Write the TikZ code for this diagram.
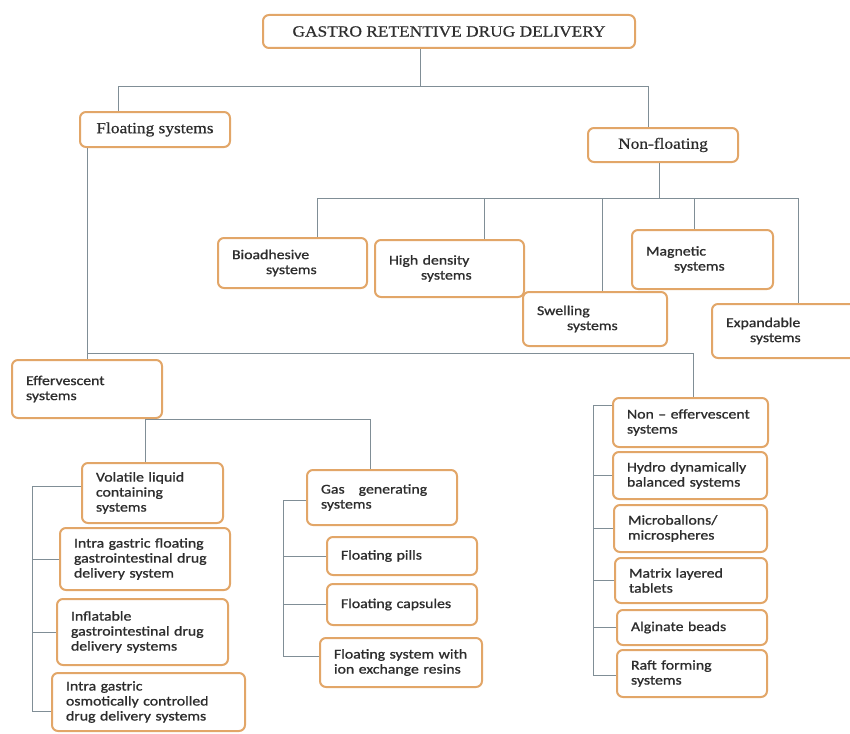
\documentclass[tikz,border=0pt]{standalone}
\usepackage{fontspec}
\newfontfamily\headfont{Liberation Serif}[FakeStretch=1.12,FakeBold=0.6]
\newfontfamily\boxfont{Carlito}[FakeStretch=1.17,FakeBold=1]
\definecolor{boxedge}{RGB}{226,166,104}
\definecolor{linkgray}{RGB}{128,142,150}
\definecolor{inkgray}{RGB}{45,45,45}
\begin{document}
\begin{tikzpicture}[x=1pt,y=-1pt,
        hbox/.style={draw=boxedge,line width=2pt,rounded corners=6pt,fill=white,
            font=\headfont\fontsize{15.5}{18}\selectfont,text=inkgray,inner sep=0pt},
        sbox/.style={draw=boxedge,line width=2pt,rounded corners=6pt,fill=white,
            font=\boxfont\fontsize{13.5}{15}\selectfont,text=inkgray,
            inner xsep=14pt,inner ysep=0pt,align=left,text width=#1},
        link/.style={draw=linkgray,line width=1pt}]
    \useasboundingbox (0,0) rectangle (850,733);
    % first level
    \node[hbox,minimum width=372pt,minimum height=33pt] (top) at (449,31.5) {GASTRO RETENTIVE DRUG DELIVERY};
    \node[hbox,minimum width=150pt,minimum height=35pt] (fl) at (155,129.5) {Floating systems};
    \node[hbox,minimum width=150pt,minimum height=34pt] (nf) at (663,145) {Non-floating};
    % non-floating systems
    \node[sbox=121pt,minimum height=50pt] (bio) at (292.5,263) {Bioadhesive\\\hspace*{34pt}systems};
    \node[sbox=121pt,minimum height=57pt] (hd) at (449.5,268.5) {High density\\\hspace*{32pt}systems};
    \node[sbox=116pt,minimum height=54pt] (sw) at (595,319) {Swelling\\\hspace*{30pt}systems};
    \node[sbox=113pt,minimum height=59pt] (mag) at (702.5,259.5) {Magnetic\\\hspace*{28pt}systems};
    \node[sbox=118pt,minimum height=54pt] (exp) at (785,331) {Expandable\\\hspace*{24pt}systems};
    % floating systems
    \node[sbox=122pt,minimum height=58pt] (eff) at (87,389) {Effervescent\\systems};
    \node[sbox=113pt,minimum height=60pt] (vol) at (152.5,493) {Volatile liquid\\containing\\systems};
    \node[sbox=142pt,minimum height=62pt] (igf) at (145,559) {Intra gastric floating\\gastrointestinal drug\\delivery system};
    \node[sbox=143pt,minimum height=66pt] (inf) at (142.5,632) {Inflatable\\gastrointestinal drug\\delivery systems};
    \node[sbox=165pt,minimum height=58pt] (igo) at (148.5,702) {Intra gastric\\osmotically controlled\\drug delivery systems};
    \node[sbox=122pt,minimum height=55pt] (gas) at (382,497.5) {Gas\hspace{14pt}generating\\systems};
    \node[sbox=122pt,minimum height=38pt] (pills) at (402,556) {Floating pills};
    \node[sbox=122pt,minimum height=41pt] (caps) at (402,604.5) {Floating capsules};
    \node[sbox=134pt,minimum height=49pt] (ion) at (401,662.5) {Floating system with\\ion exchange resins};
    \node[sbox=127pt,minimum height=49pt] (nonef) at (690.5,422.5) {Non – effervescent\\systems};
    \node[sbox=126pt,minimum height=47pt] (hydro) at (690,475.5) {Hydro dynamically\\balanced systems};
    \node[sbox=125pt,minimum height=47pt] (micro) at (690.5,528.5) {Microballons/\\microspheres};
    \node[sbox=124pt,minimum height=45pt] (matrix) at (691,580.5) {Matrix layered\\tablets};
    \node[sbox=122pt,minimum height=35pt] (alg) at (692,627.5) {Alginate beads};
    \node[sbox=122pt,minimum height=47pt] (raft) at (692,673.5) {Raft forming\\systems};
    % junctions
    \coordinate (tb) at (420,87);
    \coordinate (b1) at (118,87);
    \coordinate (b2) at (648,87);
    \coordinate (n0) at (659,198);
    \coordinate (nL) at (317,198);
    \coordinate (n1) at (484,198);
    \coordinate (n2) at (602,198);
    \coordinate (n3) at (694,198);
    \coordinate (nR) at (798,198);
    \coordinate (f0) at (87,353);
    \coordinate (f1) at (693,353);
    \coordinate (e1) at (145,419);
    \coordinate (e2) at (370,419);
    \coordinate (v0) at (32,486);
    \coordinate (v3) at (32,711);
    \coordinate (g0) at (283,500);
    \coordinate (g3) at (283,656);
    \coordinate (r0) at (593,405);
    \coordinate (r5) at (593,675);
    % connectors
    \draw[link] (top.south -| tb) -- (tb);
    \draw[link] (fl.north -| b1) -- (b1) -- (b2) -- (nf.north -| b2);
    \draw[link] (nf.south -| n0) -- (n0);
    \draw[link] (bio.north -| nL) -- (nL) -- (nR) -- (exp.north -| nR);
    \draw[link] (n1) -- (hd.north -| n1);
    \draw[link] (n2) -- (sw.north -| n2);
    \draw[link] (n3) -- (mag.north -| n3);
    \draw[link] (fl.south -| f0) -- (eff.north -| f0);
    \draw[link] (f0) -- (f1) -- (nonef.north -| f1);
    \draw[link] (vol.north -| e1) -- (e1) -- (e2) -- (gas.north -| e2);
    \draw[link] (vol.west |- v0) -- (v0) -- (v3) -- (igo.west |- v3);
    \draw[link] (igf.west) -- (igf.west -| v0);
    \draw[link] (inf.west) -- (inf.west -| v0);
    \draw[link] (gas.west |- g0) -- (g0) -- (g3) -- (ion.west |- g3);
    \draw[link] (pills.west) -- (pills.west -| g0);
    \draw[link] (caps.west) -- (caps.west -| g0);
    \draw[link] (nonef.west |- r0) -- (r0) -- (r5) -- (raft.west |- r5);
    \draw[link] (hydro.west) -- (hydro.west -| r0);
    \draw[link] (micro.west) -- (micro.west -| r0);
    \draw[link] (matrix.west) -- (matrix.west -| r0);
    \draw[link] (alg.west) -- (alg.west -| r0);
\end{tikzpicture}
\end{document}
